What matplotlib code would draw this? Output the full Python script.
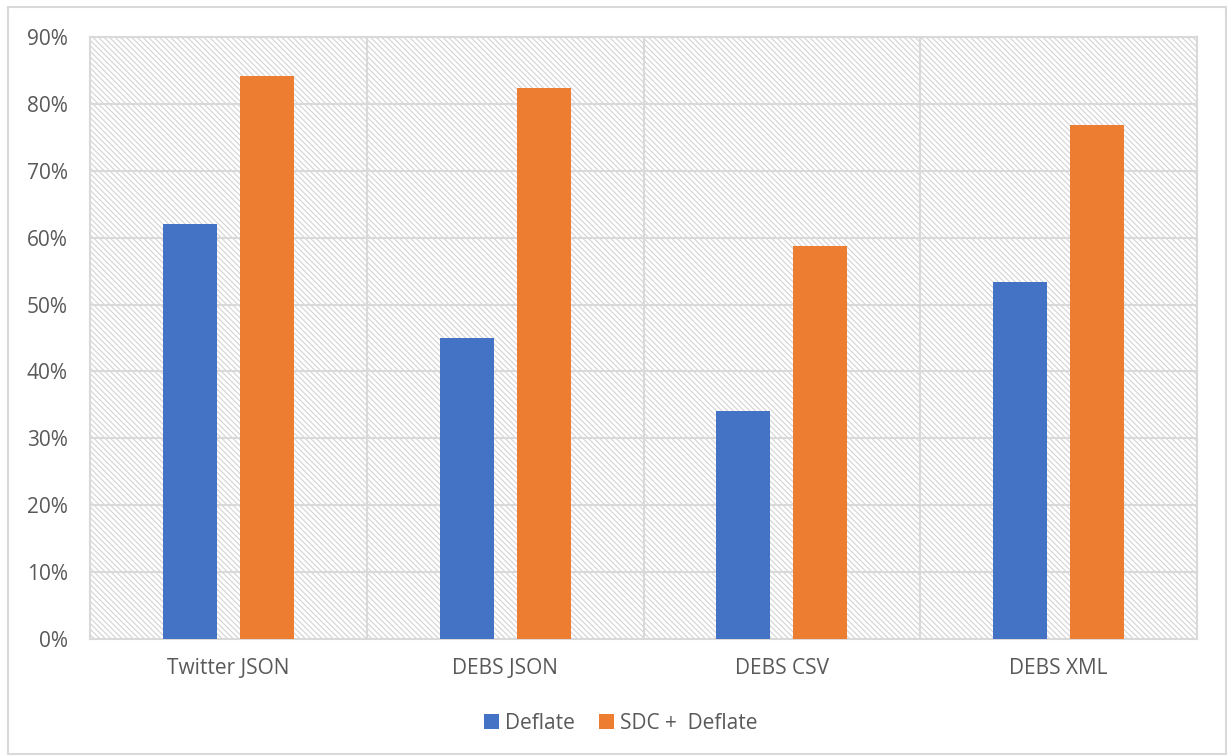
import matplotlib
matplotlib.use("Agg")
import matplotlib.pyplot as plt
import numpy as np
from matplotlib.patches import Rectangle
from matplotlib.ticker import PercentFormatter

# ---------------------------------------------------------------------------
# Data
# ---------------------------------------------------------------------------
datasets = ["Twitter JSON", "DEBS JSON", "DEBS CSV", "DEBS XML"]
deflate = [62.0, 45.0, 34.1, 53.3]
sdc_deflate = [84.2, 82.4, 58.7, 76.8]
series_labels = ["Deflate", "SDC +  Deflate"]

BLUE = "#4472C4"
ORANGE = "#ED7D31"
GRID = "#D9D9D9"
TEXT = "#595959"

plt.rcParams["font.family"] = ["Open Sans", "DejaVu Sans"]
plt.rcParams["hatch.linewidth"] = 0.8
plt.rcParams["hatch.color"] = "#D3D3D3"

fig = plt.figure(figsize=(12.27, 7.56), dpi=100)
ax = fig.add_axes([0.0733, 0.1548, 0.9023, 0.7962])

# outer chart border
fig.patches.append(Rectangle((0.0065, 0.003), 0.9925, 0.988, transform=fig.transFigure,
                             fill=False, edgecolor=GRID, linewidth=1.5, zorder=0))

# hatched plot-area background
ax.add_patch(Rectangle((0, 0), 1, 1, transform=ax.transAxes, facecolor="white",
                       hatch="\\\\\\\\\\\\", edgecolor="#D3D3D3", linewidth=0, zorder=0))

x = np.arange(len(datasets))
w = 0.195
off = 0.139
ax.bar(x - off, deflate, w, color=BLUE, label=series_labels[0], zorder=3)
ax.bar(x + off, sdc_deflate, w, color=ORANGE, label=series_labels[1], zorder=3)

ax.set_xlim(-0.5, len(datasets) - 0.5)
ax.set_ylim(0, 90)
ax.set_yticks(np.arange(0, 91, 10))
ax.yaxis.set_major_formatter(PercentFormatter(decimals=0))
ax.set_xticks(x)
ax.set_xticklabels(datasets)

for y in np.arange(10, 91, 10):
    ax.axhline(y, color=GRID, linewidth=1.5, zorder=1)
for xb in np.arange(0.5, len(datasets) - 0.5, 1):
    ax.axvline(xb, color=GRID, linewidth=1.5, zorder=1)

for s in ax.spines.values():
    s.set_color(GRID)
    s.set_linewidth(1.5)
ax.tick_params(length=0, labelsize=15, colors=TEXT)
ax.tick_params(axis="y", pad=16)
ax.tick_params(axis="x", pad=14)

# legend centred under the whole chart
fig.legend(loc="center", bbox_to_anchor=(0.506, 0.043), ncol=2, frameon=False,
           fontsize=15, labelcolor=TEXT, handlelength=0.7, handleheight=0.7,
           handletextpad=0.3, columnspacing=1.15)

fig.savefig("out.png", dpi=100)
